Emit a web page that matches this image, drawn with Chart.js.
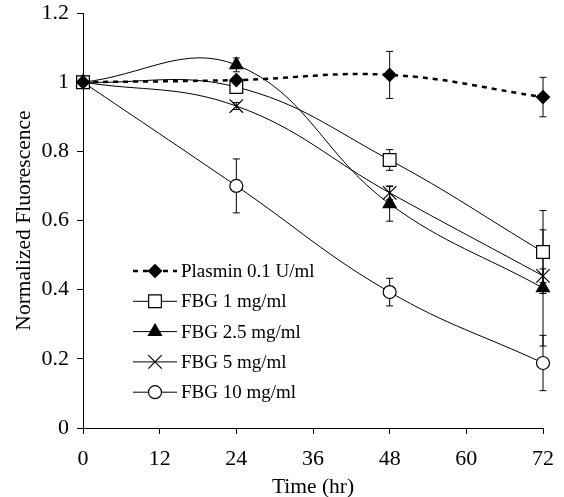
<!DOCTYPE html>
<html>
<head>
<meta charset="utf-8">
<script src="https://cdn.jsdelivr.net/npm/chart.js@4.4.1/dist/chart.umd.min.js"></script>
<style>
  html, body { margin: 0; padding: 0; background: #fff; }
  #wrap { width: 564px; height: 497px; }
</style>
</head>
<body>
<div id="wrap"><canvas id="c" width="564" height="497"></canvas></div>
<script>
// ---- data ----
const hours = [0, 24, 48, 72];
const seriesLabels = ["Plasmin 0.1 U/ml", "FBG 1 mg/ml", "FBG 2.5 mg/ml", "FBG 5 mg/ml", "FBG 10 mg/ml"];
const plasmin = [1.0, 1.006, 1.021, 0.957];
const fbg1 = [1.0, 0.986, 0.775, 0.509];
const fbg25 = [1.0, 1.05, 0.648, 0.405];
const fbg5 = [1.0, 0.931, 0.68, 0.44];
const fbg10 = [1.0, 0.70, 0.393, 0.188];
const plasminErr = [0, 0.01, 0.068, 0.057];
const fbg1Err = [0, 0.017, 0.03, 0.12];
const fbg25Err = [0, 0.02, 0.05, 0.168];
const fbg5Err = [0, 0.01, 0.02, 0.02];
const fbg10Err = [0, 0.078, 0.04, 0.08];
const xTicks = [0, 12, 24, 36, 48, 60, 72];
const yTicks = [0, 0.2, 0.4, 0.6, 0.8, 1, 1.2];
const xTitle = "Time (hr)";
const yTitle = "Normalized Fluorescence";

const FONT = "'Liberation Serif', 'Times New Roman', serif";
const toPts = arr => arr.map((v, i) => ({x: hours[i], y: v}));

const styles = [
  {pointStyle: 'rectRot', radius: 6.5, bg: '#000', dash: [5, 5], width: 2.5},
  {pointStyle: 'rect', radius: 9, bg: '#fff', dash: [], width: 1},
  {pointStyle: 'triangle', radius: 7.5, bg: '#000', dash: [], width: 1},
  {pointStyle: 'crossRot', radius: 9.5, bg: '#fff', dash: [], width: 1},
  {pointStyle: 'circle', radius: 6.5, bg: '#fff', dash: [], width: 1}
];
const values = [plasmin, fbg1, fbg25, fbg5, fbg10];
const errs = [plasminErr, fbg1Err, fbg25Err, fbg5Err, fbg10Err];

const datasets = values.map((v, i) => ({
  label: seriesLabels[i],
  data: toPts(v),
  errors: errs[i],
  borderColor: '#000',
  borderWidth: styles[i].width,
  borderDash: styles[i].dash,
  tension: 0.4,
  pointStyle: styles[i].pointStyle,
  pointRadius: styles[i].radius,
  pointHoverRadius: styles[i].radius,
  pointBackgroundColor: styles[i].bg,
  pointBorderColor: '#000',
  pointBorderWidth: 1.2,
  fill: false,
  clip: false
}));

const errorBars = {
  id: 'errorBars',
  beforeDatasetsDraw(chart) {
    const ctx = chart.ctx;
    const xs = chart.scales.x, ys = chart.scales.y;
    ctx.save();
    ctx.strokeStyle = '#000';
    ctx.lineWidth = 1;
    ctx.setLineDash([]);
    chart.data.datasets.forEach(ds => {
      ds.data.forEach((p, j) => {
        const e = ds.errors[j];
        if (!e) return;
        const px = xs.getPixelForValue(p.x);
        const top = ys.getPixelForValue(p.y + e);
        const bot = ys.getPixelForValue(p.y - e);
        ctx.beginPath();
        ctx.moveTo(px, top); ctx.lineTo(px, bot);
        ctx.moveTo(px - 3.5, top); ctx.lineTo(px + 3.5, top);
        ctx.moveTo(px - 3.5, bot); ctx.lineTo(px + 3.5, bot);
        ctx.stroke();
      });
    });
    ctx.restore();
  }
};

const customLegend = {
  id: 'customLegend',
  afterDraw(chart) {
    const ctx = chart.ctx;
    const x0 = 133, x1 = 177, xm = 155, tx = 181;
    let y = 271;
    const step = 30.3;
    ctx.save();
    chart.data.datasets.forEach((ds, i) => {
      ctx.strokeStyle = '#000';
      ctx.lineWidth = ds.borderWidth;
      ctx.setLineDash(ds.borderDash || []);
      ctx.beginPath();
      ctx.moveTo(x0, y); ctx.lineTo(x1, y);
      ctx.stroke();
      ctx.setLineDash([]);
      ctx.lineWidth = 1.2;
      ctx.fillStyle = ds.pointBackgroundColor;
      ctx.strokeStyle = '#000';
      Chart.helpers.drawPoint(ctx, {pointStyle: ds.pointStyle, radius: ds.pointRadius, rotation: 0, borderWidth: 1.2}, xm, y);
      ctx.fillStyle = '#000';
      ctx.font = "19px " + FONT;
      ctx.textAlign = 'left';
      ctx.textBaseline = 'middle';
      ctx.fillText(ds.label, tx, y + 1);
      y += step;
    });
    ctx.restore();
  }
};

new Chart(document.getElementById('c'), {
  type: 'line',
  data: { datasets },
  options: {
    responsive: false,
    animation: false,
    events: [],
    layout: { padding: { left: 0, right: 21, top: 13, bottom: 0 } },
    plugins: { legend: { display: false }, tooltip: { enabled: false } },
    scales: {
      x: {
        type: 'linear', min: 0, max: 72,
        afterBuildTicks(s) { s.ticks = xTicks.map(v => ({value: v})); },
        afterFit(s) { s.height = 69; s.paddingLeft = 0; s.paddingRight = 0; },
        ticks: { color: '#000', font: { family: FONT, size: 22 }, padding: 12, maxRotation: 0,
                 callback: v => String(v) },
        grid: { display: true, drawOnChartArea: false, tickLength: 6, color: '#000', tickColor: '#000' },
        border: { display: true, color: '#000', width: 1 },
        title: { display: true, text: xTitle, color: '#000', font: { family: FONT, size: 21.5, lineHeight: 1 }, padding: { top: 0, bottom: -1 } }
      },
      y: {
        type: 'linear', min: 0, max: 1.2,
        afterBuildTicks(s) { s.ticks = yTicks.map(v => ({value: v})); },
        afterFit(s) { s.width = 83; s.paddingTop = 0; s.paddingBottom = 0; },
        ticks: { color: '#000', font: { family: FONT, size: 22 }, padding: 8,
                 callback: v => String(Math.round(v * 10) / 10) },
        grid: { display: true, drawOnChartArea: false, tickLength: 6, color: '#000', tickColor: '#000' },
        border: { display: true, color: '#000', width: 1 },
        title: { display: true, text: yTitle, color: '#000', font: { family: FONT, size: 21.5, lineHeight: 1 }, padding: { top: 14, bottom: 0 } }
      }
    }
  },
  plugins: [errorBars, customLegend]
});
</script>
</body>
</html>
